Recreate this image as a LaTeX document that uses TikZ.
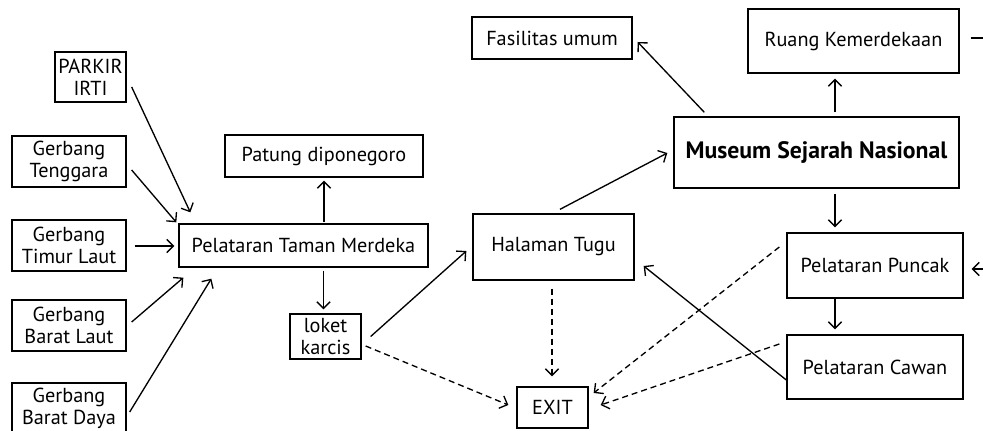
\documentclass[tikz,border=0pt]{standalone}
\usepackage{fontspec}
\setmainfont{PT Sans}
\usetikzlibrary{arrows.meta,calc}
\begin{document}
\begin{tikzpicture}[x=0.75pt,y=-0.75pt,
  box/.style={draw,line width=1pt,inner sep=0pt,align=center,font=\fontsize{15.2}{16.5}\selectfont},
  arr/.style={line width=1pt,-{Straight Barb[length=5pt,width=10pt,line width=1pt]}},
  darr/.style={arr,dash pattern=on 4.5pt off 3pt},
  conn/.style={line width=1pt}]
\useasboundingbox (0,0) rectangle (983,431);
\fill[white] (0,0) rectangle (983,431);
% left entry nodes
\node[box,minimum width=53.25pt,minimum height=37.5pt] (parkir) at (90.5,77) {PARKIR\\IRTI};
\node[box,minimum width=85.5pt,minimum height=38.25pt] (tengg) at (69,161.5) {Gerbang\\Tenggara};
\node[box,minimum width=85.5pt,minimum height=38.25pt] (timur) at (69,245.5) {Gerbang\\Timur Laut};
\node[box,minimum width=85.5pt,minimum height=38.25pt] (blaut) at (69,325.5) {Gerbang\\Barat Laut};
\node[box,minimum width=85.5pt,minimum height=38.25pt] (bdaya) at (69,408.5) {Gerbang\\Barat Daya};
% middle
\node[box,minimum width=186.75pt,minimum height=32.25pt] (ptm) at (303.5,245.5) {Pelataran Taman Merdeka};
\node[box,minimum width=148.5pt,minimum height=31.5pt] (patung) at (324,156) {Patung diponegoro};
\node[box,minimum width=53.25pt,minimum height=33.75pt] (loket) at (325.5,336.5) {loket\\karcis};
\node[box,minimum width=120.75pt,minimum height=49.5pt] (halaman) at (553.5,247) {Halaman Tugu};
\node[box,minimum width=53.25pt,minimum height=30.75pt] (exit) at (552.5,407.5) {EXIT};
\node[box,minimum width=120pt,minimum height=31.5pt] (fasil) at (552,38) {Fasilitas umum};
% right
\node[box,minimum width=213.75pt,minimum height=53.25pt,font=\fontsize{17.8}{20}\selectfont\bfseries] (museum) at (816.5,152.5) {Museum Sejarah Nasional};
\node[box,minimum width=158.25pt,minimum height=48pt] (ruang) at (853.5,41) {Ruang Kemerdekaan};
\node[box,minimum width=132pt,minimum height=48.75pt] (puncak) at (875,265.5) {Pelataran Puncak};
\node[box,minimum width=132pt,minimum height=48pt] (cawan) at (875,367) {Pelataran Cawan};
\coordinate (edgeR) at (983,38);
\coordinate (edgeP) at (983,269);
% connectors
\draw[arr] ($(parkir.east)+(5,10)$) -- ($(ptm.north west)+(12,-11)$);
\draw[arr] ($(tengg.east)+(5,8.5)$) -- ($(ptm.north west)+(-2,-1)$);
\draw[arr] ($(timur.east)+(8,0.5)$) -- ($(ptm.west)+(-4,0.5)$);
\draw[arr] ($(blaut.east)+(5,-3.5)$) -- ($(ptm.south west)+(5,10)$);
\draw[arr] ($(bdaya.east)+(3,3.5)$) -- ($(ptm.south west)+(33,11)$);
\draw[arr] ($(patung.south |- ptm.north)+(0,-1)$) -- ($(patung.south)+(0,3)$);
\draw[arr] ($(loket.north |- ptm.south)+(-2,3)$) -- ($(loket.north)+(-2,-4)$);
\draw[arr] ($(loket.east)+(9,0)$) -- ($(halaman.west)+(-6,4)$);
\draw[darr] ($(loket.east)+(4,9.5)$) -- ($(exit.west)+(-8,-2.5)$);
\draw[darr] ($(halaman.south)+(-1.5,8)$) -- ($(exit.north)+(-0.5,-10)$);
\draw[arr] ($(halaman.north)+(6.5,-4)$) -- ($(museum.west)+(-6,0.5)$);
\draw[arr] ($(museum.north west)+(31,-4)$) -- ($(fasil.east)+(5,4)$);
\draw[arr] ($(museum.north)+(18.5,-4)$) -- ($(ruang.south)+(-18.5,5)$);
\draw[arr] ($(museum.south)+(18.5,5)$) -- ($(puncak.north)+(-40,-5)$);
\draw[arr] ($(puncak.south)+(-40,0)$) -- ($(cawan.north)+(-40,-5)$);
\draw[arr] ($(cawan.west)+(0,13)$) -- ($(halaman.east)+(9,19)$);
\draw[darr] ($(puncak.west)+(-7,-18.5)$) -- ($(exit.east)+(5,-14.5)$);
\draw[darr] ($(cawan.west)+(-7,-23)$) -- ($(exit.east)+(12,-2.5)$);
\draw[conn] ($(ruang.east)+(11,-3)$) -- (edgeR);
\draw[arr] (edgeP) -- ($(puncak.east)+(8,3.5)$);
\end{tikzpicture}
\end{document}
